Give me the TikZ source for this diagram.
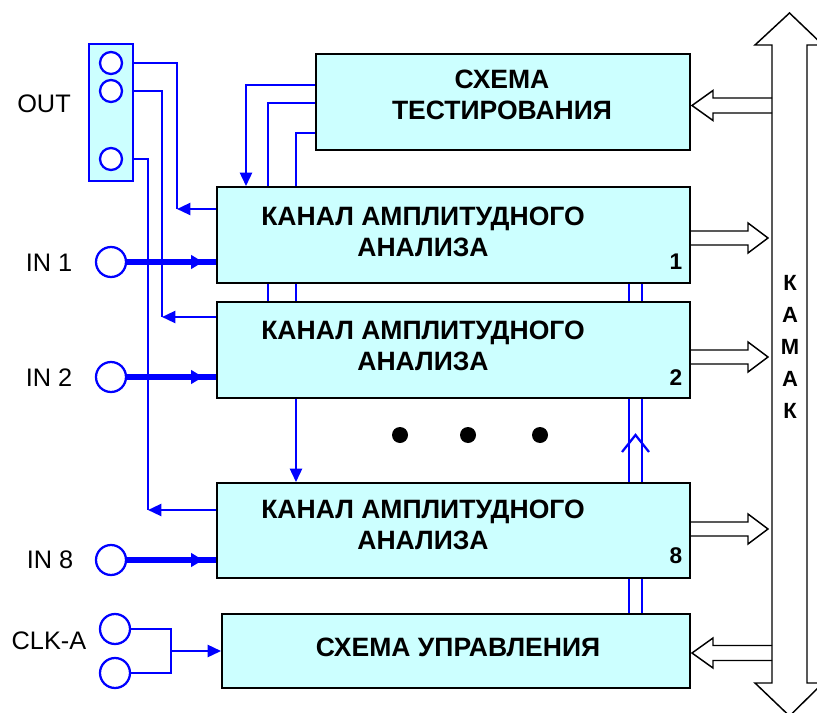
\documentclass[tikz,border=0pt]{standalone}
\usepackage{fontspec}
\setmainfont{Liberation Sans}
\usepackage{xcolor}
\usetikzlibrary{arrows.meta, calc, fit}

\definecolor{boxcyan}{RGB}{204,255,255}
\definecolor{sigblue}{RGB}{0,0,255}

\begin{document}
\begin{tikzpicture}[x=0.75pt, y=-0.75pt, >=Stealth,
  blk/.style={draw=black, line width=1.4pt, fill=boxcyan, inner sep=0pt},
  sig/.style={draw=sigblue, line width=1.7pt},
  sigtip/.style={sig, -{Triangle[length=10pt, width=9pt]}},
  inbus/.style={draw=sigblue, line width=3.8pt},
  port/.style={circle, draw=sigblue, line width=1.7pt, fill=white,
    minimum size=22.5pt, inner sep=0pt},
  jack/.style={port, minimum size=16.5pt},
  hollow/.style={draw=black, line width=1.1pt, line join=miter},
  boxtxt/.style={font=\bfseries\fontsize{19.9}{23.25}\selectfont, align=center},
  num/.style={font=\bfseries\fontsize{17}{20}\selectfont},
  lbl/.style={font=\fontsize{19}{21}\selectfont},
  kmk/.style={font=\bfseries\fontsize{16.5}{24}\selectfont, align=center}]

\useasboundingbox (0,0) rectangle (817,713);

%-- blocks
\node[blk, fit={(316,54) (690,150)}]  (test) {};
\node[blk, fit={(217,187) (690,283)}] (ch1)  {};
\node[blk, fit={(217,302) (690,398)}] (ch2)  {};
\node[blk, fit={(217,483) (690,578)}] (ch8)  {};
\node[blk, fit={(222,614) (690,688)}] (ctrl) {};

\node[boxtxt] (testtxt) at (502,95)    {СХЕМА\\ТЕСТИРОВАНИЯ};
\node[boxtxt] (ch1txt)  at (423,231.5) {КАНАЛ АМПЛИТУДНОГО\\АНАЛИЗА};
\node[boxtxt] (ch2txt)  at (423,345.5) {КАНАЛ АМПЛИТУДНОГО\\АНАЛИЗА};
\node[boxtxt] (ch8txt)  at (423,524.5) {КАНАЛ АМПЛИТУДНОГО\\АНАЛИЗА};
\node[boxtxt] (ctrltxt) at (458,647)   {СХЕМА УПРАВЛЕНИЯ};

\node[num] (ch1no) at (676,262) {1};
\node[num] (ch2no) at (676,378) {2};
\node[num] (ch8no) at (676,556) {8};

%-- OUT connector
\node[draw=sigblue, line width=1.5pt, fill=boxcyan, inner sep=0pt,
  fit={(89,44) (133,181)}] (outbox) {};
\foreach \n/\yy in {o1/63, o2/91, o3/159}
  \node[jack] (\n) at (111,\yy) {};

\coordinate (f1) at (177,209);
\coordinate (f2) at (162,317);
\coordinate (f3) at (148,510);
\draw[sig] (outbox.east |- o1) -| (f1);
\draw[sig] (outbox.east |- o2) -| (f2);
\draw[sig] (outbox.east |- o3) -| (f3);
\draw[sigtip] (ch1.west |- f1) -- (f1);
\draw[sigtip] (ch2.west |- f2) -- (f2);
\draw[sigtip] (ch8.west |- f3) -- (f3);

%-- inputs
\foreach \n/\c/\yy in {in1/ch1/262, in2/ch2/377, in8/ch8/560}{
  \node[port] (\n) at (111,\yy) {};
  \draw[inbus] (\n) -- (\c.west |- \n);
  \draw[inbus, -{Triangle[length=9pt, width=10pt]}]
    (\n) -- ($(\c.west |- \n)+(-13,0)$);
}

\node[lbl] (outlbl) at (44,104) {OUT};
\node[lbl] (in1lbl) at (49,263) {IN 1};
\node[lbl] (in2lbl) at (49,378) {IN 2};
\node[lbl] (in8lbl) at (50,560) {IN 8};
\node[lbl] (clklbl) at (49,641) {CLK-A};

%-- clock
\node[port] (clk1) at (115,629) {};
\node[port] (clk2) at (115,673) {};
\coordinate (cj) at (171,651);
\draw[sig] (clk1) -- (clk1 -| cj) -- (clk2 -| cj) -- (clk2);
\draw[sigtip] (cj) -- (ctrl.west |- cj);

%-- testing links
\coordinate (t1) at (246,85);
\coordinate (t2) at (268,103);
\coordinate (t3) at (296,133);
\draw[sigtip] (test.west |- t1) -| (ch1.north -| t1);
\draw[sig] (test.west |- t2) -| (ch1.north -| t2);
\draw[sig] (test.west |- t3) -| (ch1.north -| t3);
\foreach \p in {t2,t3}
  \draw[sig] (ch1.south -| \p) -- (ch2.north -| \p);
\draw[sigtip] (ch2.south -| t3) -- (ch8.north -| t3);

%-- control links
\coordinate (r1) at (629,0);
\coordinate (r2) at (642,0);
\foreach \p in {r1,r2}{
  \draw[sig] (ch1.south -| \p) -- (ch2.north -| \p);
  \draw[sig] (ch2.south -| \p) -- (ch8.north -| \p);
  \draw[sig] (ch8.south -| \p) -- (ctrl.north -| \p);
}
\draw[sig] (622,452) -- (635.5,435) -- (649,452);

\foreach \x in {400,468,540}
  \fill (\x,435) circle (8);

%-- bus arrows
\foreach \yy in {238,357,529}
  \draw[hollow] (690,\yy-7) -- (748,\yy-7) -- (748,\yy-15) -- (768,\yy)
    -- (748,\yy+15) -- (748,\yy+7) -- (690,\yy+7);
\foreach \yy in {105.5,653}
  \draw[hollow] (772,\yy-7.5) -- (713,\yy-7.5) -- (713,\yy-15) -- (692,\yy)
    -- (713,\yy+15) -- (713,\yy+7.5) -- (772,\yy+7.5);

\draw[hollow] (789.5,13) -- (823,45) -- (807,45) -- (807,683) -- (823,683)
  -- (789.5,716) -- (755,683) -- (772,683) -- (772,45) -- (755,45) -- cycle;
\node[kmk] (kamak) at (790,347) {К\\А\\М\\А\\К};

\end{tikzpicture}
\end{document}
